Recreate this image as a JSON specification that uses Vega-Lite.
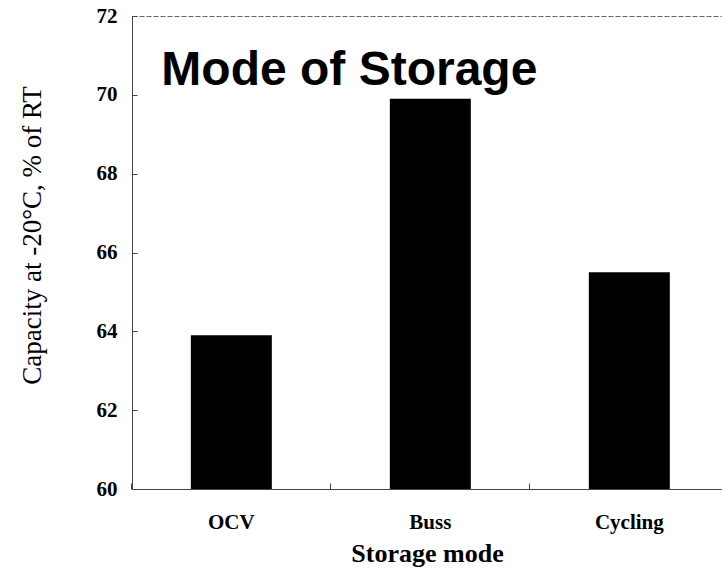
{
  "$schema": "https://vega.github.io/schema/vega-lite/v6.json",
  "autosize": "none",
  "width": 590,
  "height": 473,
  "padding": {"left": 132, "top": 16, "right": 0, "bottom": 83},
  "background": "white",
  "config": {
    "view": {"stroke": "#666", "strokeDash": [5, 2], "strokeWidth": 1}
  },
  "data": {
    "values": [
      {"mode": "OCV", "capacity": 63.9},
      {"mode": "Buss", "capacity": 69.9},
      {"mode": "Cycling", "capacity": 65.5}
    ]
  },
  "layer": [
    {
      "mark": {"type": "bar", "color": "black", "clip": true},
      "encoding": {
        "x": {
          "field": "mode",
          "type": "nominal",
          "sort": null,
          "scale": {"paddingInner": 0.593, "paddingOuter": 0.279, "align": 0.53},
          "axis": {
            "title": "Storage mode",
            "labelAngle": 0,
            "labelFont": "Liberation Serif",
            "labelFontWeight": "bold",
            "labelFontSize": 21,
            "labelColor": "black",
            "labelPadding": 28,
            "titleFont": "Liberation Serif",
            "titleFontWeight": "bold",
            "titleFontSize": 26,
            "titleColor": "black",
            "titlePadding": 8,
            "domainColor": "#444",
            "tickColor": "#444",
            "tickSize": -6,
            "bandPosition": -0.728,
            "grid": false
          }
        },
        "y": {
          "field": "capacity",
          "type": "quantitative",
          "scale": {"domain": [60, 72], "nice": false, "zero": false},
          "axis": {
            "title": "Capacity at -20°C, % of RT",
            "values": [60, 62, 64, 66, 68, 70, 72],
            "labelFont": "Liberation Serif",
            "labelFontWeight": "bold",
            "labelFontSize": 21,
            "labelColor": "black",
            "labelPadding": 20,
            "titleFont": "Liberation Serif",
            "titleFontWeight": "normal",
            "titleFontSize": 27,
            "titleColor": "black",
            "titlePadding": 50,
            "titleY": 219,
            "titleAlign": "center",
            "domainColor": "#444",
            "tickColor": "#444",
            "tickSize": -5,
            "grid": false
          }
        },
        "y2": {"datum": 60}
      }
    },
    {
      "data": {"values": [{"label": "Mode of Storage", "mode": "OCV", "y": 70.25}]},
      "mark": {
        "type": "text",
        "align": "left",
        "baseline": "alphabetic",
        "dx": -70,
        "font": "Liberation Sans",
        "fontSize": 48,
        "fontWeight": "bold",
        "color": "black"
      },
      "encoding": {
        "x": {"field": "mode", "type": "nominal", "sort": null},
        "y": {"field": "y", "type": "quantitative"},
        "text": {"field": "label"}
      }
    }
  ]
}
